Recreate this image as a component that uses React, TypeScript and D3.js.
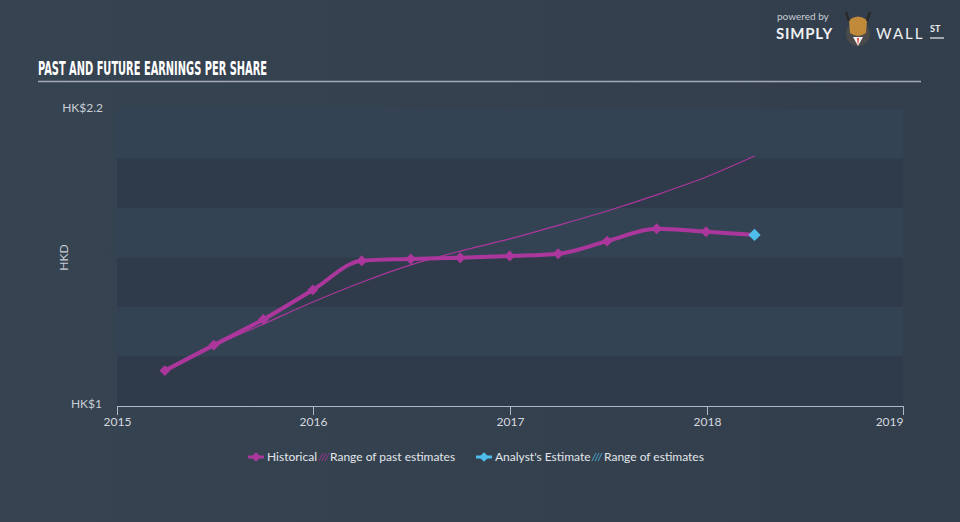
import React, { useRef, useEffect } from 'react';
import * as d3 from 'd3';

// quarter end dates
const histDates = [
  '2015-03-31', '2015-06-30', '2015-09-30', '2015-12-31',
  '2016-03-31', '2016-06-30', '2016-09-30', '2016-12-31',
  '2017-03-31', '2017-06-30', '2017-09-30', '2017-12-31',
];
const histEps = [1.143, 1.246, 1.35, 1.469, 1.587, 1.594, 1.599, 1.606, 1.615, 1.666, 1.716, 1.704];

const pastRangeDates = [
  '2015-03-31', '2015-06-30', '2015-09-30', '2015-12-31',
  '2016-03-31', '2016-06-30', '2016-09-30', '2016-12-31',
  '2017-03-31', '2017-06-30', '2017-09-30', '2017-12-31', '2018-03-31',
];
const pastRangeEps = [1.143, 1.243, 1.331, 1.42, 1.5, 1.57, 1.626, 1.675, 1.73, 1.788, 1.853, 1.925, 2.01];

const analystDates = ['2018-03-31'];
const analystEps = [1.691];

const yearTicks = [2015, 2016, 2017, 2018, 2019];
const bandEdges = [1, 1.2, 1.4, 1.6, 1.8, 2.0, 2.2];

const W = 960;
const H = 522;
const HIST = '#ac379c';
const ANALYST = '#4fbde9';
const FONT = 'Lato, "Noto Sans", sans-serif';

export default function App() {
  const ref = useRef<SVGSVGElement | null>(null);

  useEffect(() => {
    const svg = d3.select(ref.current);
    svg.selectAll('*').remove();

    const margin = { top: 109, right: 57, bottom: 116, left: 117 };
    const width = W - margin.left - margin.right;
    const height = H - margin.top - margin.bottom;
    const parse = d3.timeParse('%Y-%m-%d');

    const x = d3.scaleTime()
      .domain([new Date(2015, 0, 1), new Date(2019, 0, 1)])
      .range([0, width]);
    const y = d3.scaleLinear().domain([1, 2.2]).range([height, 0]);

    // background
    const defs = svg.append('defs');
    const grad = defs.append('linearGradient').attr('id', 'bg').attr('x1', 0).attr('x2', 1).attr('y1', 0).attr('y2', 0);
    grad.append('stop').attr('offset', '0%').attr('stop-color', '#364351');
    grad.append('stop').attr('offset', '100%').attr('stop-color', '#323e4c');
    svg.append('rect').attr('width', W).attr('height', H).attr('fill', 'url(#bg)');

    // title
    svg.append('text')
      .attr('x', 38).attr('y', 75)
      .attr('font-family', '"Liberation Sans Narrow", "DejaVu Sans Condensed", sans-serif')
      .attr('font-weight', 'bold')
      .attr('font-size', 19)
      .attr('textLength', 229)
      .attr('lengthAdjust', 'spacingAndGlyphs')
      .attr('fill', '#ffffff')
      .text('PAST AND FUTURE EARNINGS PER SHARE');
    svg.append('line')
      .attr('x1', 38).attr('x2', 921).attr('y1', 81.5).attr('y2', 81.5)
      .attr('stroke', '#a3acb6').attr('stroke-width', 1.5);

    // logo
    const logo = svg.append('g');
    logo.append('text').attr('x', 777).attr('y', 20).attr('font-family', FONT)
      .attr('font-size', 10).attr('fill', '#c9ced5').text('powered by');
    logo.append('text').attr('x', 776).attr('y', 39).attr('font-family', FONT)
      .attr('font-weight', 'bold').attr('font-size', 15).attr('letter-spacing', 0.8)
      .attr('fill', '#eef0f2').text('SIMPLY');
    logo.append('circle').attr('cx', 858).attr('cy', 34).attr('r', 12).attr('fill', '#4a4a4a');
    logo.append('path').attr('d', 'M849,20 Q858,13 867,20 L866,33 Q858,39 850,33 Z').attr('fill', '#c08a3a');
    logo.append('path').attr('d', 'M846,12 L849,21 M870,12 L867,21').attr('stroke', '#2a2a2a').attr('stroke-width', 2.5);
    logo.append('path').attr('d', 'M853,37 L858,46 L863,37 Z').attr('fill', '#f2f2f2');
    logo.append('path').attr('d', 'M857,38 L858,46 L859,38 Z').attr('fill', '#d9412b');
    logo.append('text').attr('x', 876).attr('y', 39).attr('font-family', FONT)
      .attr('font-size', 15).attr('letter-spacing', 2).attr('fill', '#eef0f2').text('WALL');
    logo.append('text').attr('x', 930).attr('y', 32).attr('font-family', FONT)
      .attr('font-weight', 'bold').attr('font-size', 9).attr('fill', '#eef0f2').text('ST');
    logo.append('line').attr('x1', 930).attr('x2', 944).attr('y1', 38).attr('y2', 38)
      .attr('stroke', '#eef0f2').attr('stroke-width', 1.2);

    const chart = svg.append('g').attr('transform', `translate(${margin.left},${margin.top})`);

    // plot area and bands
    chart.append('rect').attr('x', 0).attr('y', y(2.2)).attr('width', width).attr('height', height)
      .attr('fill', '#344354');
    chart.selectAll('rect.band')
      .data(d3.range(bandEdges.length - 1).filter(i => i % 2 === 0))
      .join('rect')
      .attr('class', 'band')
      .attr('x', 0)
      .attr('y', i => y(bandEdges[i + 1]))
      .attr('width', width)
      .attr('height', i => y(bandEdges[i]) - y(bandEdges[i + 1]))
      .attr('fill', '#2f3b4b');

    // axis
    const axis = chart.append('g').attr('transform', `translate(0,${height})`);
    axis.append('line').attr('x1', 0).attr('x2', width).attr('y1', 0.5).attr('y2', 0.5)
      .attr('stroke', '#aab9cb').attr('stroke-width', 1);
    yearTicks.forEach((yr, i) => {
      const px = Math.round(x(new Date(yr, 0, 1))) + 0.5;
      const last = i === yearTicks.length - 1;
      axis.append('line').attr('x1', px).attr('x2', px).attr('y1', 0).attr('y2', 9)
        .attr('stroke', '#aab9cb');
      axis.append('text')
        .attr('x', px)
        .attr('y', 20)
        .attr('text-anchor', last ? 'end' : 'middle')
        .attr('font-family', FONT).attr('font-size', 12).attr('fill', '#d5d9df')
        .text(String(yr));
    });

    // y labels
    svg.append('text').attr('x', 103).attr('y', margin.top + 3).attr('text-anchor', 'end')
      .attr('font-family', FONT).attr('font-size', 12).attr('fill', '#c9ced5').text('HK$2.2');
    svg.append('text').attr('x', 102).attr('y', margin.top + height + 2).attr('text-anchor', 'end')
      .attr('font-family', FONT).attr('font-size', 12).attr('fill', '#c9ced5').text('HK$1');
    svg.append('text')
      .attr('transform', `translate(68,${margin.top + y(1.6)}) rotate(-90)`)
      .attr('text-anchor', 'middle')
      .attr('font-family', FONT).attr('font-size', 12).attr('fill', '#c9ced5').text('HKD');

    // range of past estimates (thin)
    const pastRange = pastRangeDates.map((d, i) => ({ date: parse(d)!, v: pastRangeEps[i] }));
    const line = d3.line<{ date: Date; v: number }>()
      .x(d => x(d.date)).y(d => y(d.v)).curve(d3.curveMonotoneX);
    chart.append('path').datum(pastRange).attr('d', line)
      .attr('fill', 'none').attr('stroke', HIST).attr('stroke-width', 1.2);

    // historical
    const hist = histDates.map((d, i) => ({ date: parse(d)!, v: histEps[i] }));
    const analyst = analystDates.map((d, i) => ({ date: parse(d)!, v: analystEps[i] }));
    chart.append('path').datum([...hist, ...analyst]).attr('d', line)
      .attr('fill', 'none').attr('stroke', HIST).attr('stroke-width', 4)
      .attr('stroke-linejoin', 'round');

    const diamond = d3.symbol().type(d3.symbolDiamond2);
    chart.selectAll('path.hp').data(hist).join('path')
      .attr('class', 'hp')
      .attr('transform', d => `translate(${x(d.date)},${y(d.v)})`)
      .attr('d', diamond.size(75)())
      .attr('fill', HIST);
    chart.selectAll('path.ap').data(analyst).join('path')
      .attr('class', 'ap')
      .attr('transform', d => `translate(${x(d.date)},${y(d.v)})`)
      .attr('d', diamond.size(95)())
      .attr('fill', ANALYST);

    // legend
    const lg = svg.append('g').attr('font-family', FONT).attr('font-size', 12).attr('fill', '#e2e6ea');
    const ly = 457;
    const legendDiamond = (cx: number, color: string) => {
      lg.append('line').attr('x1', cx - 8).attr('x2', cx + 8).attr('y1', ly).attr('y2', ly)
        .attr('stroke', color).attr('stroke-width', 3);
      lg.append('path').attr('transform', `translate(${cx},${ly})`)
        .attr('d', d3.symbol().type(d3.symbolDiamond2).size(60)()).attr('fill', color);
    };
    const hatch = (x0: number, color: string) => {
      [0, 3, 6].forEach(o => {
        lg.append('line').attr('x1', x0 + o).attr('y1', ly + 4).attr('x2', x0 + o + 4).attr('y2', ly - 4)
          .attr('stroke', color).attr('stroke-width', 1).attr('opacity', 0.8);
      });
    };
    legendDiamond(256, HIST);
    lg.append('text').attr('x', 267).attr('y', ly + 4).text('Historical');
    hatch(319, HIST);
    lg.append('text').attr('x', 330).attr('y', ly + 4).text('Range of past estimates');
    legendDiamond(484, ANALYST);
    lg.append('text').attr('x', 495).attr('y', ly + 4).text("Analyst's Estimate");
    hatch(592, ANALYST);
    lg.append('text').attr('x', 604).attr('y', ly + 4).text('Range of estimates');
  }, []);

  return <svg ref={ref} width={W} height={H} style={{ position: 'absolute', left: 0, top: 0 }} />;
}
